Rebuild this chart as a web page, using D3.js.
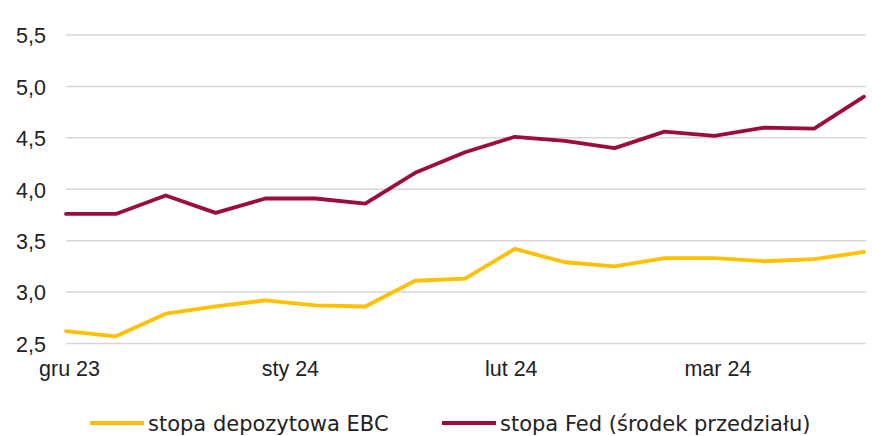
<!DOCTYPE html>
<html>
<head>
<meta charset="utf-8">
<script src="https://cdn.jsdelivr.net/npm/d3@7"></script>
<style>
  body { margin: 0; background: #fff; }
  svg { display: block; font-family: "DejaVu Sans", Verdana, sans-serif; }
  .axis text { fill: #222; font-size: 21.5px; }
  .grid line { stroke: #d6d6d6; stroke-width: 1.5; }
  .line { fill: none; stroke-width: 3.8; stroke-linejoin: round; stroke-linecap: round; }
</style>
</head>
<body>
<div id="chart"></div>
<script>

// weekly observations, first one on 1 Dec 2023
var dates = ["2023-12-01", "2023-12-08", "2023-12-15", "2023-12-22", "2023-12-29",
  "2024-01-05", "2024-01-12", "2024-01-19", "2024-01-26", "2024-02-02",
  "2024-02-09", "2024-02-16", "2024-02-23", "2024-03-01", "2024-03-08",
  "2024-03-15", "2024-03-22"];

var ebc = [2.62, 2.57, 2.79, 2.86, 2.92, 2.87, 2.86, 3.11, 3.13, 3.42,
  3.29, 3.25, 3.33, 3.33, 3.30, 3.32, 3.39];

var fed = [3.76, 3.76, 3.94, 3.77, 3.91, 3.91, 3.86, 4.16, 4.36, 4.51,
  4.47, 4.40, 4.56, 4.52, 4.60, 4.59, 4.90];

var yTicks = [2.5, 3.0, 3.5, 4.0, 4.5, 5.0, 5.5];
var xTicks = ["2023-12-01", "2024-01-01", "2024-02-01", "2024-03-01"];
var xTickLabels = ["gru 23", "sty 24", "lut 24", "mar 24"];

var seriesNames = ["stopa depozytowa EBC", "stopa Fed (środek przedziału)"];
var seriesColors = ["#ffc000", "#9c0c3f"];

var parseDate = d3.timeParse("%Y-%m-%d");

var width = 872, height = 436;
var margin = { top: 35, right: 6, bottom: 93, left: 66 };
var plotW = width - margin.left - margin.right;
var plotH = height - margin.top - margin.bottom;

var svg = d3.select("#chart").append("svg")
    .attr("width", width)
    .attr("height", height);

// title sits above the picture, only the bottom of its brackets shows
svg.append("text")
    .attr("x", 449)
    .attr("y", -3)
    .attr("text-anchor", "middle")
    .attr("fill", "#222")
    .style("font-size", "21px")
    .text("(%)");

var g = svg.append("g").attr("transform", "translate(" + margin.left + "," + margin.top + ")");

var data = dates.map(function (d, i) {
  return { date: parseDate(d), ebc: ebc[i], fed: fed[i] };
});

var x = d3.scaleTime()
    .domain(d3.extent(data, function (d) { return d.date; }))
    .range([0, plotW - 2]);
var y = d3.scaleLinear().domain([2.5, 5.5]).range([plotH + 0.5, 0]);

// horizontal grid
g.append("g")
    .attr("class", "grid")
    .selectAll("line")
    .data(yTicks)
    .enter().append("line")
    .attr("x1", 0)
    .attr("x2", plotW)
    .attr("y1", function (d) { return y(d); })
    .attr("y2", function (d) { return y(d); });

var fmt = function (d) { return d3.format(".1f")(d).replace(".", ","); };

var yAxis = d3.axisLeft(y).tickValues(yTicks).tickFormat(fmt).tickSize(0).tickPadding(20);
g.append("g")
    .attr("class", "axis yAxis")
    .call(yAxis)
    .call(function (a) { a.select(".domain").remove(); })
    .selectAll("text").attr("dy", "0.36em");

var xAxis = d3.axisBottom(x)
    .tickValues(xTicks.map(parseDate))
    .tickFormat(function (d, i) { return xTickLabels[i]; })
    .tickSize(0)
    .tickPadding(18);
g.append("g")
    .attr("class", "axis xAxis")
    .attr("transform", "translate(0," + plotH + ")")
    .call(xAxis)
    .call(function (a) { a.select(".domain").remove(); })
    .selectAll("text").attr("transform", "translate(3,0)");

var keys = ["ebc", "fed"];
keys.forEach(function (k, i) {
  var line = d3.line()
      .x(function (d) { return x(d.date); })
      .y(function (d) { return y(d[k]); });
  g.append("path")
      .datum(data)
      .attr("class", "line")
      .attr("stroke", seriesColors[i])
      .attr("d", line);
});

// legend
var legendX = [90, 442];
var legend = svg.append("g").attr("class", "legend");
seriesNames.forEach(function (name, i) {
  legend.append("line")
      .attr("x1", legendX[i])
      .attr("x2", legendX[i] + 54)
      .attr("y1", 423)
      .attr("y2", 423)
      .attr("stroke", seriesColors[i])
      .attr("stroke-width", 3.8);
  legend.append("text")
      .attr("x", legendX[i] + 58)
      .attr("y", 431)
      .attr("fill", "#222")
      .style("font-size", "21px")
      .text(name);
});
</script>
</body>
</html>
